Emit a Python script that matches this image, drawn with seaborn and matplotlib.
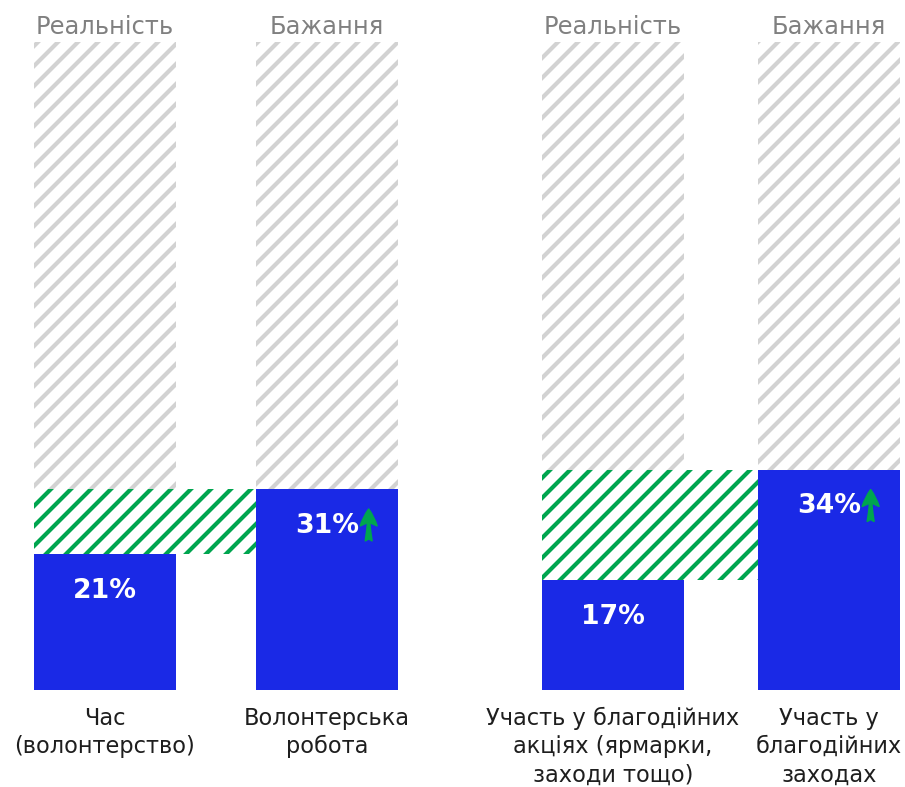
import matplotlib
matplotlib.use('Agg')
import matplotlib.pyplot as plt
import seaborn as sns
from matplotlib.transforms import offset_copy

# data
headers = ['Реальність', 'Бажання']
full = [100, 100]
labels_1 = ['Час\n(волонтерство)', 'Волонтерська\nробота']
values_1 = [21, 31]
labels_2 = ['Участь у благодійних\nакціях (ярмарки,\nзаходи тощо)',
            'Участь у\nблагодійних\nзаходах']
values_2 = [17, 34]

BLUE = '#1a29e6'
GREEN = '#00a54f'
GRAY = '#d2d2d2'

sns.set_theme(style='white')
plt.rcParams['font.family'] = ['DejaVu Sans']
plt.rcParams['hatch.linewidth'] = 2.5

DPI = 120
fig = plt.figure(figsize=(905 / DPI, 787 / DPI), dpi=DPI)
bottom = 1 - 690 / 787
height = (690 - 42) / 787
ax1 = fig.add_axes([34 / 905, bottom, 364 / 905, height])
ax2 = fig.add_axes([542 / 905, bottom, 358 / 905, height])


def draw_panel(ax, labels, values, w):
    # grey hatched background up to 100%
    sns.barplot(x=labels, y=full, color='white', saturation=1, hatch='//',
                edgecolor=GRAY, linewidth=0, width=w, errorbar=None, ax=ax, zorder=1)
    # green hatched gap between reality and wish
    ax.bar(-w / 2, values[1] - values[0], bottom=values[0], width=1, align='edge',
           color='white', edgecolor=GREEN, hatch='//', linewidth=0, zorder=2)
    # actual values
    sns.barplot(x=labels, y=values, color=BLUE, saturation=1, linewidth=0,
                width=w, errorbar=None, ax=ax, zorder=3)

    for i, v in enumerate(values):
        ax.annotate(f'{v}%', xy=(i, v), xytext=(0, -22), textcoords='offset points',
                    ha='center', va='center', color='white', fontsize=16,
                    fontweight='bold', zorder=5)
    for i, h in enumerate(headers):
        ax.annotate(h, xy=(i, 100), xytext=(0, 5), textcoords='offset points',
                    ha='center', va='baseline', color='#808080', fontsize=14.5,
                    annotation_clip=False)

    # green arrow next to the wish value
    ax.annotate('', xy=(1, values[1]),
                xycoords=offset_copy(ax.transData, fig=fig, x=25, y=-12, units='points'),
                xytext=(0, -19), textcoords='offset points',
                arrowprops=dict(arrowstyle='fancy,head_length=0.5,head_width=0.5,tail_width=0.2',
                                color=GREEN, shrinkA=0, shrinkB=0, mutation_scale=20),
                zorder=6)

    ax.set_xlim(-w / 2, 1 + w / 2)
    ax.set_ylim(0, 100)
    ax.set_yticks([])
    ax.set_ylabel('')
    ax.tick_params(axis='x', length=0, pad=10, labelsize=13.5, labelcolor='#1e1e1e')
    for t in ax.get_xticklabels():
        t.set_linespacing(1.3)
    sns.despine(ax=ax, left=True, bottom=True)


draw_panel(ax1, labels_1, values_1, 142 / 222)
draw_panel(ax2, labels_2, values_2, 142 / 216)

fig.savefig('out.png', dpi=DPI)
